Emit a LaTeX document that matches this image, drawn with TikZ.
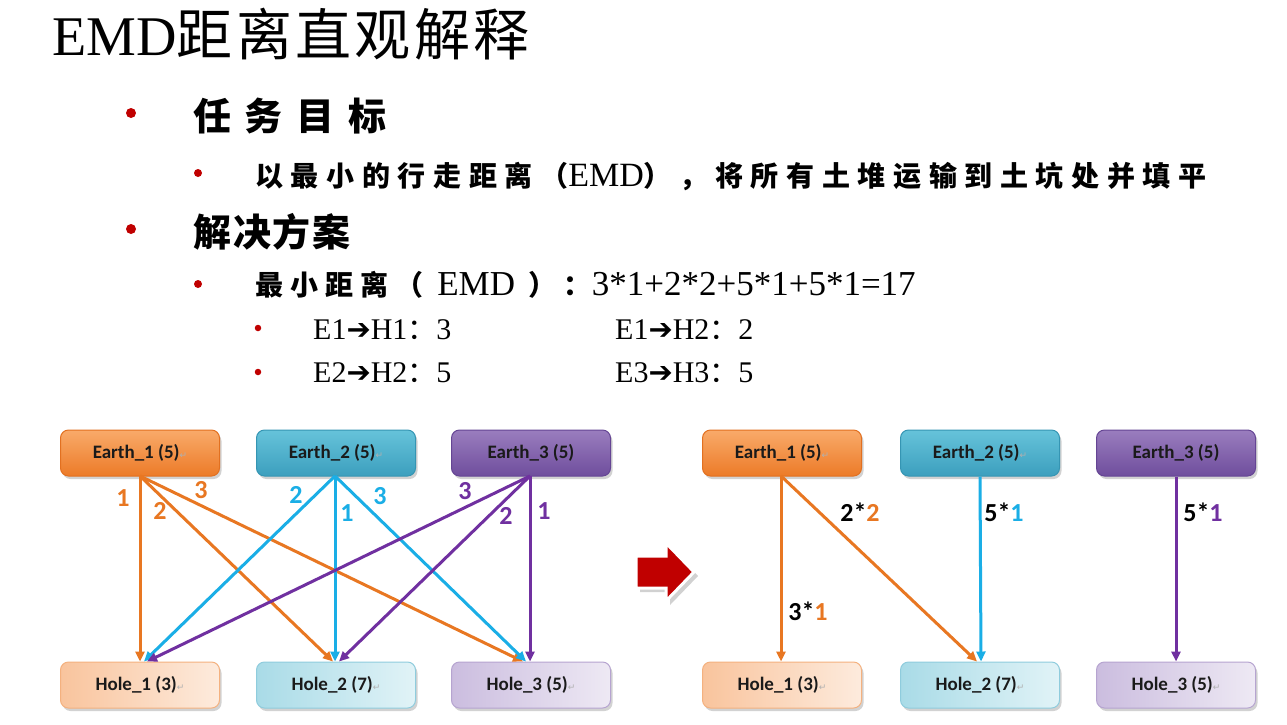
\documentclass[tikz,border=0pt]{standalone}
\usepackage{fontspec}
\setmainfont{Liberation Serif}
\newfontfamily\cjkT[LetterSpace=6]{Noto Sans CJK SC}
\newfontfamily\cjkH[LetterSpace=36]{Noto Sans CJK SC}
\newfontfamily\cjkHb[LetterSpace=5]{Noto Sans CJK SC}
\newfontfamily\cjkL[LetterSpace=25.5]{Noto Sans CJK SC}
\newfontfamily\cjkLL[LetterSpace=27.3]{Noto Sans CJK SC}
\newfontfamily\cjkP{Noto Sans CJK SC}
\newfontfamily\boxfont{Carlito}
\newfontfamily\djv{DejaVu Sans}
\usetikzlibrary{arrows.meta,shadows}
\definecolor{bulletred}{HTML}{C00000}
\definecolor{corange}{HTML}{E87722}
\definecolor{ccyan}{HTML}{1AAEE6}
\definecolor{cpurple}{HTML}{7030A0}
\definecolor{eoT}{HTML}{F9AA6A}\definecolor{eoB}{HTML}{EC7B28}\definecolor{eoD}{HTML}{E27020}
\definecolor{ecT}{HTML}{66C3DA}\definecolor{ecB}{HTML}{3C9FBE}\definecolor{ecD}{HTML}{3595B3}
\definecolor{epT}{HTML}{9A7DBE}\definecolor{epB}{HTML}{6F4E9D}\definecolor{epD}{HTML}{654594}
\definecolor{hoT}{HTML}{F9C49D}\definecolor{hoB}{HTML}{FDEBDD}\definecolor{hoD}{HTML}{F4B17F}
\definecolor{hcT}{HTML}{A9DBE7}\definecolor{hcB}{HTML}{E1F3F7}\definecolor{hcD}{HTML}{8FCCDD}
\definecolor{hpT}{HTML}{CBBDDF}\definecolor{hpB}{HTML}{EEE9F4}\definecolor{hpD}{HTML}{B6A4D0}
\definecolor{retmark}{HTML}{B0B0B0}
\definecolor{boxtext}{HTML}{1A1A1A}
\begin{document}
\begin{tikzpicture}[x=1pt,y=-1pt,
  boxbase/.style={rounded corners=8pt, minimum width=159pt, minimum height=46pt,
    inner sep=0pt, line width=1pt, text=boxtext, font={\boxfont\bfseries\fontsize{19}{21}\selectfont},
    drop shadow={shadow xshift=2pt, shadow yshift=-3pt, opacity=0.35}},
  eo/.style={boxbase, draw=eoD, top color=eoT, bottom color=eoB},
  ec/.style={boxbase, draw=ecD, top color=ecT, bottom color=ecB},
  ep/.style={boxbase, draw=epD, top color=epT, bottom color=epB},
  ho/.style={boxbase, draw=hoD, left color=hoT, right color=hoB},
  hc/.style={boxbase, draw=hcD, left color=hcT, right color=hcB},
  hp/.style={boxbase, draw=hpD, left color=hpT, right color=hpB},
  conn/.style={line width=3pt, -{Triangle[length=10pt,width=9pt]}},
  wlab/.style={font={\boxfont\bfseries\fontsize{26}{28}\selectfont}, inner sep=0pt},
  txt/.style={anchor=base west, inner sep=0pt},
  bul/.style={circle, fill=bulletred, inner sep=0pt}
]
\useasboundingbox (0,0) rectangle (1287,724);
\fill[white] (0,0) rectangle (1287,724);

% ---------- text ----------
\node[txt] (title) at (52,55) {\fontsize{56}{60}\selectfont EMD\cjkT 距离直观解释};

\node[bul, minimum size=10pt] (b1) at (131,113) {};
\node[txt] (t1) at (193,130) {\cjkH\bfseries\fontsize{38}{40}\selectfont 任务目标};

\node[bul, minimum size=8pt] (b2) at (198,173) {};
\node[txt] (t2) at (255,186) {\fontsize{34}{36}\selectfont{\cjkLL\bfseries\fontsize{28}{30}\selectfont 以最小的行走距离（}EMD{\cjkLL\bfseries\fontsize{28}{30}\selectfont ），将所有土堆运输到土坑处并填平}};

\node[bul, minimum size=10pt] (b3) at (131,229) {};
\node[txt] (t3) at (193,246) {\cjkHb\bfseries\fontsize{38}{40}\selectfont 解决方案};

\node[bul, minimum size=8pt] (b4) at (198,284) {};
\node[txt] (t4) at (255,295) {\fontsize{35}{37}\selectfont{\cjkL\bfseries\fontsize{28}{30}\selectfont 最小距离（ }EMD{\cjkL\bfseries\fontsize{28}{30}\selectfont\ ）：}3*1+2*2+5*1+5*1=17};

\newcommand{\harrow}{{\djv\bfseries\fontsize{29}{31}\selectfont ➔}}
\newcommand{\fcolon}{{\cjkP\fontsize{29}{31}\selectfont ：}}
\node[bul, minimum size=6.5pt] (b5) at (258,328) {};
\node[txt] (t5) at (313,339) {\fontsize{30}{32}\selectfont E1\harrow H1\fcolon 3};
\node[txt] (t6) at (615,339) {\fontsize{30}{32}\selectfont E1\harrow H2\fcolon 2};
\node[bul, minimum size=6.5pt] (b6) at (258,372) {};
\node[txt] (t7) at (313,382) {\fontsize{30}{32}\selectfont E2\harrow H2\fcolon 5};
\node[txt] (t8) at (615,382) {\fontsize{30}{32}\selectfont E3\harrow H3\fcolon 5};

% ---------- left diagram ----------
\newcommand{\rmk}{{\djv\mdseries\color{retmark}\fontsize{9}{10}\selectfont ↵}}
\node[eo] (le1) at (140,453) {Earth\_1 (5)\rmk};
\node[ec] (le2) at (336,453) {Earth\_2 (5)\rmk};
\node[ep] (le3) at (531,453) {Earth\_3 (5)};
\node[ho] (lh1) at (140,685) {Hole\_1 (3)\rmk};
\node[hc] (lh2) at (336,685) {Hole\_2 (7)\rmk};
\node[hp] (lh3) at (531,685) {Hole\_3 (5)\rmk};

\coordinate (o1) at (140,476);
\coordinate (o2) at (335,476);
\coordinate (o3) at (530,476);

\draw[conn, corange] (o1) -- ([xshift=0pt]lh1.north);
\draw[conn, corange] (o1) -- ([xshift=-3pt]lh2.north);
\draw[conn, corange] (o1) -- ([xshift=-8pt]lh3.north);
\draw[conn, ccyan] (o2) -- ([xshift=4pt]lh1.north);
\draw[conn, ccyan] (o2) -- ([xshift=-1pt]lh2.north);
\draw[conn, ccyan] (o2) -- ([xshift=-5pt]lh3.north);
\draw[conn, cpurple] (o3) -- ([xshift=7pt]lh1.north);
\draw[conn, cpurple] (o3) -- ([xshift=3pt]lh2.north);
\draw[conn, cpurple] (o3) -- ([xshift=-1pt]lh3.north);

\node[wlab, text=corange] (l11) at (123,498) {1};
\node[wlab, text=corange] (l12) at (160,511) {2};
\node[wlab, text=corange] (l13) at (201,490) {3};
\node[wlab, text=ccyan] (l21) at (296,495) {2};
\node[wlab, text=ccyan] (l22) at (347,513) {1};
\node[wlab, text=ccyan] (l23) at (380,496) {3};
\node[wlab, text=cpurple] (l31) at (465,491) {3};
\node[wlab, text=cpurple] (l32) at (506,516) {2};
\node[wlab, text=cpurple] (l33) at (544,511) {1};

% ---------- big red arrow ----------
\fill[black, opacity=0.18] (640,560) -- (670,560) -- (670,547) -- (698,576) -- (670,605) -- (670,592) -- (640,592) -- cycle;
\filldraw[fill=bulletred, draw=white, line width=3pt, line join=miter] (636,556) -- (666,556) -- (666,543) -- (694,572) -- (666,601) -- (666,588) -- (636,588) -- cycle;

% ---------- right diagram ----------
\node[eo] (re1) at (782,453) {Earth\_1 (5)\rmk};
\node[ec] (re2) at (980,453) {Earth\_2 (5)\rmk};
\node[ep] (re3) at (1176,453) {Earth\_3 (5)};
\node[ho] (rh1) at (782,685) {Hole\_1 (3)\rmk};
\node[hc] (rh2) at (980,685) {Hole\_2 (7)\rmk};
\node[hp] (rh3) at (1176,685) {Hole\_3 (5)\rmk};

\coordinate (p1) at (781,476);
\draw[conn, corange] (p1) -- ([xshift=-1pt]rh1.north);
\draw[conn, corange] (p1) -- ([xshift=-3pt]rh2.north);
\draw[conn, ccyan] (re2.south) -- ([xshift=1pt]rh2.north);
\draw[conn, cpurple] (re3.south) -- (rh3.north);

\node[wlab, text=black] (r1) at (860,512) {2*\textcolor{corange}{2}};
\node[wlab, text=black] (r2) at (1004,512) {5*\textcolor{ccyan}{1}};
\node[wlab, text=black] (r3) at (1203,512) {5*\textcolor{cpurple}{1}};
\node[wlab, text=black] (r4) at (808,611) {3*\textcolor{corange}{1}};
\end{tikzpicture}
\end{document}
